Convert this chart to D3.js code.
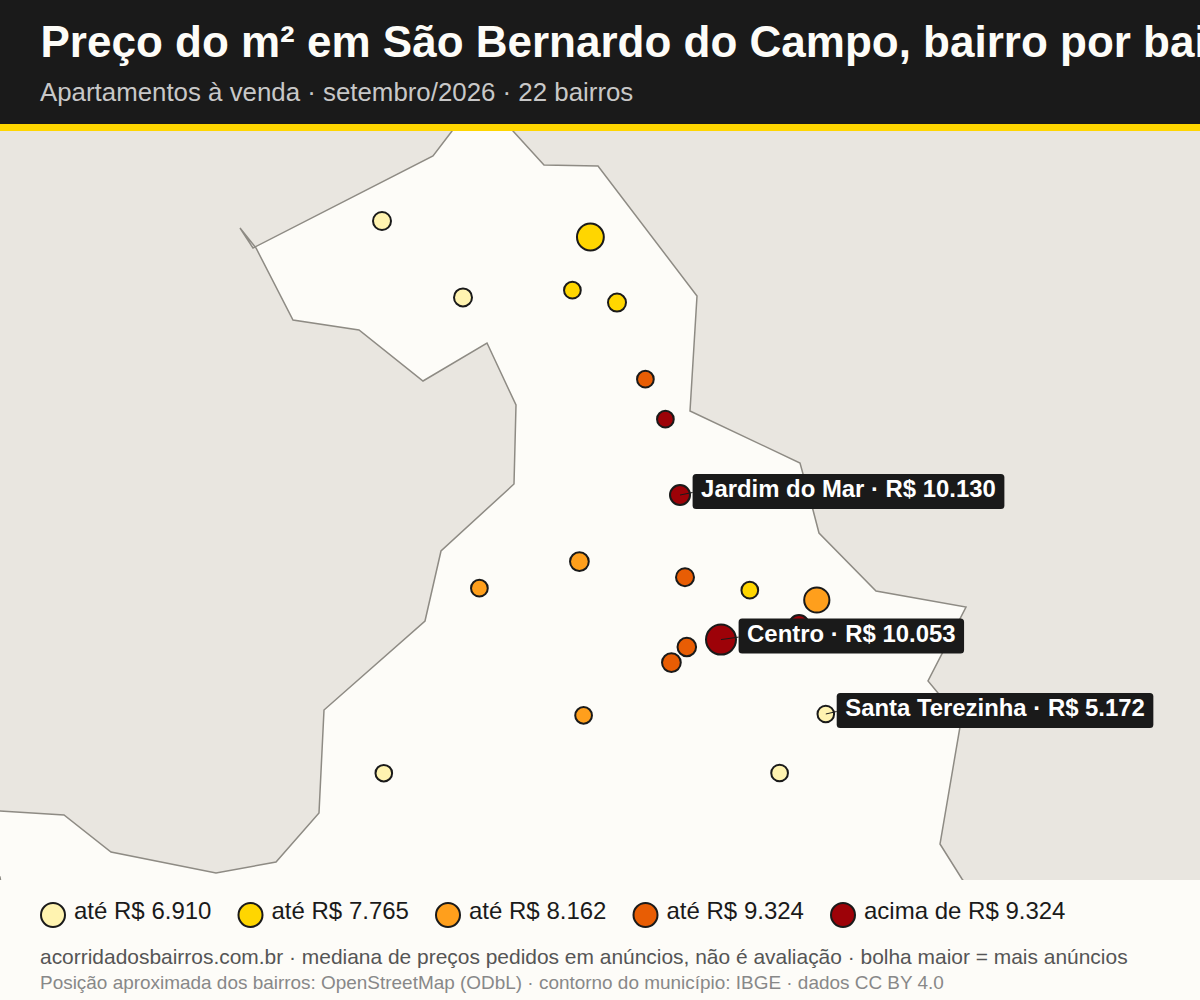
<!DOCTYPE html>
<html lang="pt-BR">
<head>
<meta charset="utf-8">
<title>Preço do m² em São Bernardo do Campo</title>
<script src="https://cdn.jsdelivr.net/npm/d3@7"></script>
<style>
    html, body { margin: 0; padding: 0; background: #fdfcf8; overflow: hidden; }
    svg { display: block; font-family: "Liberation Sans", Arial, sans-serif; }
</style>
</head>
<body>
<div id="chart"></div>
<script>
// posicao em km a partir do canto sudoeste do mapa
var bairroLeste = [19.1, 29.52, 23.15, 28.62, 30.85, 32.27, 33.27, 34.0, 28.97, 23.97, 34.25, 37.49, 40.84, 39.95, 36.05, 34.34, 33.57, 29.18, 41.29, 19.19, 38.98];
var bairroNorte = [32.95, 32.15, 29.13, 29.49, 28.87, 25.04, 23.04, 19.25, 15.92, 14.59, 15.14, 14.49, 14.0, 12.75, 12.02, 11.65, 10.87, 8.23, 8.3, 5.34, 5.35];
var bairroPreco = [6500, 7400, 6700, 7500, 7300, 8800, 9800, 10130, 8000, 7900, 8900, 7600, 8050, 9600, 10053, 8700, 8600, 8000, 5172, 6400, 6600];
var bairroAnuncios = [81, 180, 81, 70, 81, 70, 70, 100, 88, 70, 81, 70, 159, 100, 225, 86, 88, 70, 69, 69, 70];
var bairroNome = ["", "", "", "", "", "", "", "Jardim do Mar", "", "", "", "", "", "", "Centro", "", "", "", "Santa Terezinha", "", ""];

// contorno do municipio, mesmos km
var contornoLeste = [23.5, 22.6, 21.65, 12.65, 12, 12.8, 14.65, 17.95, 21.15, 24.35, 25.8, 25.7, 22.05, 21.25, 16.2, 15.95, 13.8, 10.8, 5.55, 3.2, 0, -1, -1, 0, 0.15, 48.75, 48.1, 47, 48.05, 46.9, 46.4, 48.3, 43.8, 40.95, 40.65, 40, 34.5, 34.85, 29.9, 27.2, 25.65, 24.5];
var contornoNorte = [39, 37.45, 36.2, 31.6, 32.6, 31.6, 28, 27.5, 24.95, 26.85, 23.75, 19.8, 16.45, 12.95, 8.5, 3.35, 0.9, 0.35, 1.4, 3.25, 3.45, 3.5, 1.5, 0.15, -0.75, -0.75, 0.05, 1.8, 7.95, 9.35, 9.95, 13.65, 14.45, 17.35, 18.5, 20.85, 23.45, 29.2, 35.7, 35.75, 37.45, 39];

var faixas = [6910, 7765, 8162, 9324];
var faixaCores = ["#fff3b0", "#ffd600", "#ff9f1c", "#e85d04", "#9d0208"];
var legendaTextos = ["até R$ 6.910", "até R$ 7.765", "até R$ 8.162", "até R$ 9.324", "acima de R$ 9.324"];

var titulo = "Preço do m² em São Bernardo do Campo, bairro por bairro";
var subtitulo = "Apartamentos à venda · setembro/2026 · 22 bairros";
var rodape1 = "acorridadosbairros.com.br · mediana de preços pedidos em anúncios, não é avaliação · bolha maior = mais anúncios";
var rodape2 = "Posição aproximada dos bairros: OpenStreetMap (ODbL) · contorno do município: IBGE · dados CC BY 4.0";

var width = 1200, height = 1000;
var mapaTopo = 131, mapaBase = 880;
var escuro = "#1a1a1a";

var x = d3.scaleLinear().domain([0, 60]).range([0, width]);
var y = d3.scaleLinear().domain([0, 37.45]).range([mapaBase, mapaTopo]);
var raio = d3.scaleSqrt().domain([0, 225]).range([0, 15]);
var cor = d3.scaleThreshold().domain(faixas).range(faixaCores);
var formatoPreco = d3.format(",d");

function rotuloPreco(v) {
    return "R$ " + formatoPreco(v).replace(/,/g, ".");
}

var svg = d3.select("#chart").append("svg")
    .attr("width", width)
    .attr("height", height)
    .attr("viewBox", "0 0 " + width + " " + height);

svg.append("rect")
    .attr("width", width)
    .attr("height", height)
    .attr("fill", "#fdfcf8");

svg.append("clipPath").attr("id", "recorte-mapa")
    .append("rect")
    .attr("x", 0)
    .attr("y", mapaTopo)
    .attr("width", width)
    .attr("height", mapaBase - mapaTopo);

var mapa = svg.append("g").attr("clip-path", "url(#recorte-mapa)");

mapa.append("rect")
    .attr("x", 0)
    .attr("y", mapaTopo)
    .attr("width", width)
    .attr("height", mapaBase - mapaTopo)
    .attr("fill", "#e9e6e0");

var linhaContorno = d3.line()
    .x(function (d) { return x(d[0]); })
    .y(function (d) { return y(d[1]); });

mapa.append("path")
    .attr("d", linhaContorno(d3.zip(contornoLeste, contornoNorte)) + "Z")
    .attr("fill", "#fdfcf8")
    .attr("stroke", "#8e8b84")
    .attr("stroke-width", 1.5)
    .attr("stroke-linejoin", "miter");

var bairros = bairroLeste.map(function (leste, i) {
    return {
        leste: leste,
        norte: bairroNorte[i],
        preco: bairroPreco[i],
        anuncios: bairroAnuncios[i],
        nome: bairroNome[i]
    };
});

mapa.selectAll("circle.bairro")
    .data(bairros)
    .enter().append("circle")
    .attr("class", "bairro")
    .attr("cx", function (d) { return x(d.leste); })
    .attr("cy", function (d) { return y(d.norte); })
    .attr("r", function (d) { return raio(d.anuncios); })
    .attr("fill", function (d) { return cor(d.preco); })
    .attr("stroke", escuro)
    .attr("stroke-width", 2);

// rotulos dos tres bairros em destaque
bairros.filter(function (d) { return d.nome; }).forEach(function (d) {
    var cx = x(d.leste), cy = y(d.norte), r = raio(d.anuncios);
    var esquerda = cx + r + 2.6;
    var meio = cy - 3.5;

    var g = mapa.append("g");
    var caixa = g.append("rect");
    var texto = g.append("text")
        .attr("x", esquerda + 8.5)
        .attr("y", meio + 5.5)
        .attr("fill", "#ffffff")
        .attr("font-size", 23.9)
        .attr("font-weight", "bold")
        .text(d.nome + " · " + rotuloPreco(d.preco));

    caixa.attr("x", esquerda)
        .attr("y", meio - 17.5)
        .attr("width", texto.node().getComputedTextLength() + 17)
        .attr("height", 35)
        .attr("rx", 3.5)
        .attr("fill", escuro);

    g.append("line")
        .attr("x1", cx)
        .attr("y1", cy)
        .attr("x2", esquerda)
        .attr("y2", meio + 1)
        .attr("stroke", escuro)
        .attr("stroke-width", 1);
});

// cabecalho
svg.append("rect")
    .attr("width", width)
    .attr("height", 124)
    .attr("fill", escuro);

svg.append("rect")
    .attr("y", 124)
    .attr("width", width)
    .attr("height", 7)
    .attr("fill", "#ffd600");

svg.append("text")
    .attr("x", 40.5)
    .attr("y", 57)
    .attr("fill", "#fdfcf8")
    .attr("font-size", 44)
    .attr("font-weight", "bold")
    .text(titulo);

svg.append("text")
    .attr("x", 40)
    .attr("y", 101)
    .attr("fill", "#c8c8c8")
    .attr("font-size", 25.85)
    .text(subtitulo);

// legenda
var posLegenda = d3.scalePoint()
    .domain(d3.range(legendaTextos.length))
    .range([53, 843]);

var itens = svg.selectAll("g.legenda")
    .data(legendaTextos)
    .enter().append("g")
    .attr("class", "legenda")
    .attr("transform", function (d, i) { return "translate(" + posLegenda(i) + ",915)"; });

itens.append("circle")
    .attr("r", 12)
    .attr("fill", function (d, i) { return faixaCores[i]; })
    .attr("stroke", escuro)
    .attr("stroke-width", 2);

itens.append("text")
    .attr("x", 21)
    .attr("y", 4)
    .attr("fill", escuro)
    .attr("font-size", 24)
    .text(function (d) { return d; });

// rodape
svg.append("text")
    .attr("x", 40)
    .attr("y", 964)
    .attr("fill", "#555555")
    .attr("font-size", 20.95)
    .text(rodape1);

svg.append("text")
    .attr("x", 40)
    .attr("y", 989)
    .attr("fill", "#888888")
    .attr("font-size", 18.95)
    .text(rodape2);
</script>
</body>
</html>
